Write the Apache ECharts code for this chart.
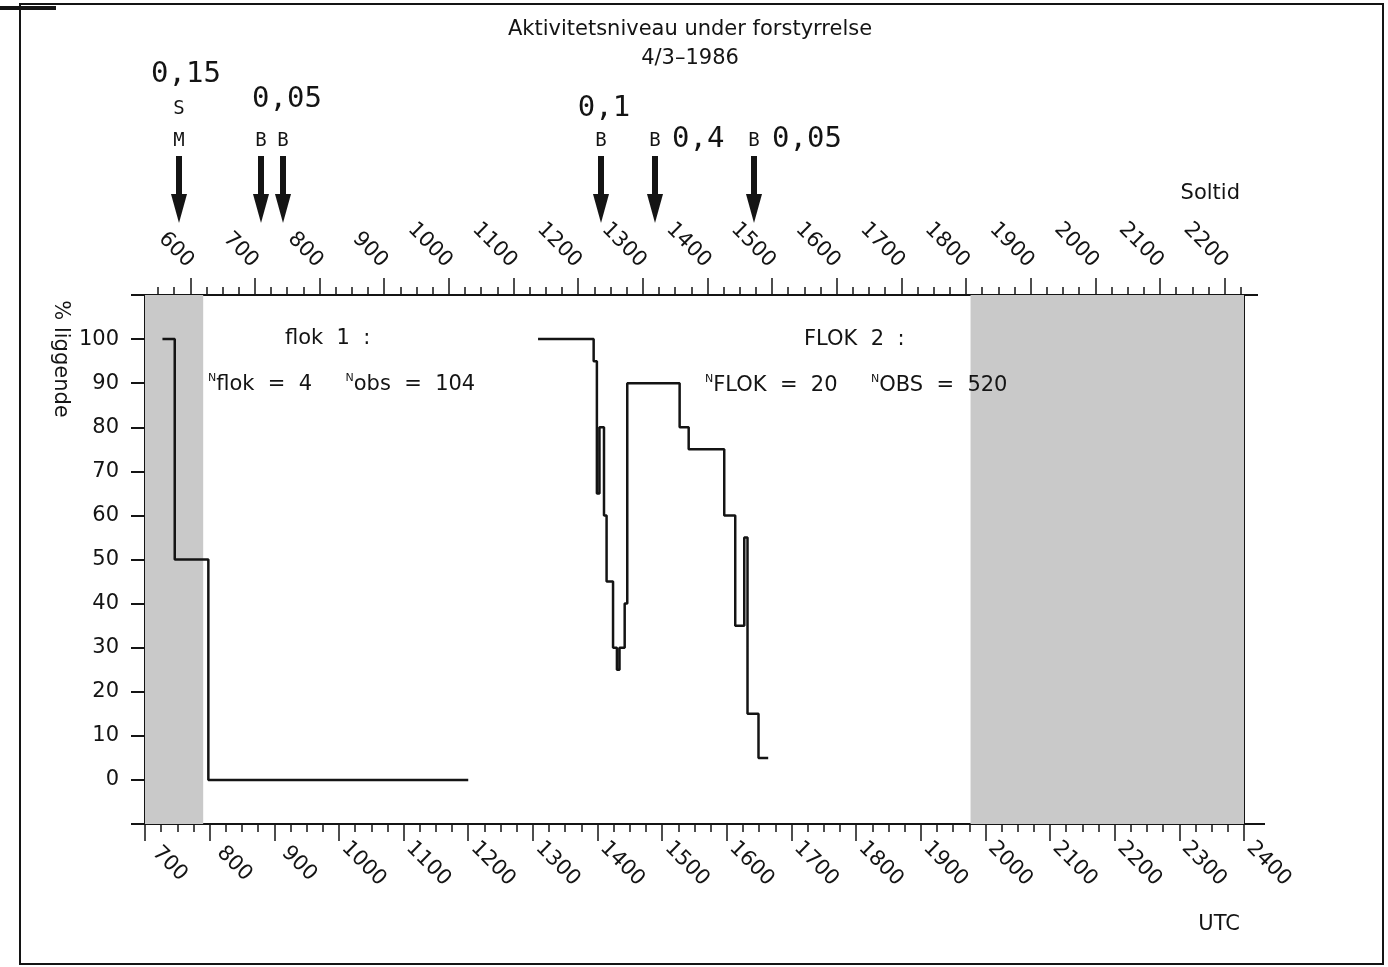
<!DOCTYPE html>
<html><head><meta charset="utf-8">
<script src="https://cdn.jsdelivr.net/npm/echarts@6/dist/echarts.min.js"></script>
<style>html,body{margin:0;padding:0;background:#fff}#c{width:1388px;height:967px}</style>
</head><body><div id="c"></div>
<script>
// ---------- data ----------
const titleLines = ['Aktivitetsniveau under forstyrrelse', '4/3\u20131986'];
const yTickValues = [0, 10, 20, 30, 40, 50, 60, 70, 80, 90, 100];
const soltidTicks = [600, 700, 800, 900, 1000, 1100, 1200, 1300, 1400, 1500, 1600, 1700, 1800, 1900, 2000, 2100, 2200];
const solarOffset = 170;            // UTC - soltid (axis units)
const utcRange = [700, 2400];
const nightBands = [[700, 790], [1977, 2400]];

const flok1Time = [727, 746, 798, 1200];
const flok1Val  = [100, 50, 0, 0];

const flok2Time = [1308, 1394, 1399, 1403, 1410, 1414, 1424, 1430, 1434, 1442, 1446, 1527, 1541, 1596, 1613, 1627, 1632, 1649, 1664];
const flok2Val  = [100, 95, 65, 80, 60, 45, 30, 25, 30, 40, 90, 80, 75, 60, 35, 55, 15, 5, 5];

const eventTimes = [752, 879, 913, 1405, 1489, 1642];
const eventCodes = [['S', 'M'], ['B'], ['B'], ['B'], ['B'], ['B']];
const eventDoses = ['0,15', '0,05', '', '0,1', '0,4', '0,05'];

const flok1Text = ['flok  1  :', '{s|N}flok  =  4     {s|N}obs  =  104'];
const flok2Text = ['FLOK  2  :', '{s|N}FLOK  =  20     {s|N}OBS  =  520'];

// ---------- chart ----------
const INK = '#141414';
const FONT = '"DejaVu Sans", sans-serif';
const MONO = '"DejaVu Sans Mono", "Liberation Mono", monospace';
const FS = 21;

const chart = echarts.init(document.getElementById('c'), null, {renderer: 'canvas'});

const lineSeries = (name, times, vals) => ({
  type: 'line', name, step: 'end', symbol: 'none', z: 3,
  data: times.map((t, i) => [t, vals[i]]),
  lineStyle: {color: INK, width: 2.5}
});

const option = {
  backgroundColor: '#fff',
  animation: false,
  grid: {left: 145, right: 144, top: 295, bottom: 143, show: true, borderColor: INK, borderWidth: 2, backgroundColor: 'transparent'},
  xAxis: [
    {
      type: 'value', position: 'bottom', min: utcRange[0], max: utcRange[1], interval: 100,
      axisLine: {onZero: false, lineStyle: {color: INK, width: 2}},
      axisTick: {length: 17, lineStyle: {color: INK, width: 1.5}},
      minorTick: {show: true, splitNumber: 4, length: 8, lineStyle: {color: INK, width: 1.5}},
      splitLine: {show: false},
      axisLabel: {rotate: -45, margin: 15, align: 'center', padding: [0, 0, 0, 70], fontSize: FS, color: INK, fontFamily: FONT, formatter: v => String(v)}
    },
    {
      type: 'value', position: 'top', min: utcRange[0] - solarOffset, max: utcRange[1] - solarOffset, splitNumber: 17,
      axisLine: {onZero: false, lineStyle: {color: INK, width: 2}},
      axisTick: {length: 17, customValues: soltidTicks, lineStyle: {color: INK, width: 1.5}},
      minorTick: {show: true, splitNumber: 4, length: 8, lineStyle: {color: INK, width: 1.5}},
      splitLine: {show: false},
      axisLabel: {rotate: 45, margin: 31, fontSize: FS, color: INK, fontFamily: FONT, customValues: soltidTicks, formatter: v => String(v)}
    }
  ],
  yAxis: {
    type: 'value', min: -10, max: 110, interval: 10,
    axisLine: {show: true, onZero: false, lineStyle: {color: INK, width: 2}},
    axisTick: {show: true, length: 14, lineStyle: {color: INK, width: 2}},
    splitLine: {show: false},
    axisLabel: {margin: 26, fontSize: FS, color: INK, fontFamily: FONT,
      formatter: v => yTickValues.indexOf(v) >= 0 ? String(v) : ''}
  },
  series: [
    Object.assign(lineSeries('flok 1', flok1Time, flok1Val), {
      markArea: {silent: true, itemStyle: {color: '#c9c9c9'},
        data: nightBands.map(b => [{xAxis: b[0]}, {xAxis: b[1]}])}
    }),
    lineSeries('FLOK 2', flok2Time, flok2Val)
  ]
};
chart.setOption(option);

// ---------- annotations ----------
const px = t => chart.convertToPixel({xAxisIndex: 0}, t);
const py = v => chart.convertToPixel({yAxisIndex: 0}, v);
const g = [];
const txt = (x, y, text, font, align, extra) => ({
  type: 'text', x, y, z: 10,
  style: Object.assign({text, font, fill: INK, align: align || 'left', verticalAlign: 'middle'}, extra || {})
});
const F = FS + 'px ' + FONT;

// page frame
g.push({type: 'rect', shape: {x: 20, y: 4, width: 1363, height: 960}, style: {fill: 'none', stroke: INK, lineWidth: 2}});
g.push({type: 'rect', shape: {x: 0, y: 6, width: 56, height: 4}, style: {fill: INK}});

// title
g.push(txt(690, 30, titleLines[0], F, 'center'));
g.push(txt(690, 59, titleLines[1], F, 'center'));

// axis names
g.push(txt(1240, 194, 'Soltid', F, 'right'));
g.push(txt(1240, 925, 'UTC', F, 'right'));
g.push({type: 'text', x: 60, y: 359, rotation: -Math.PI / 2, z: 10,
  style: {text: '% liggende', font: F, fill: INK, align: 'center', verticalAlign: 'middle'}});

// axis line extensions
const xr = px(utcRange[1]);
g.push({type: 'line', shape: {x1: xr, y1: py(110), x2: xr + 14, y2: py(110)}, style: {stroke: INK, lineWidth: 2}});
g.push({type: 'line', shape: {x1: xr, y1: py(-10), x2: xr + 21, y2: py(-10)}, style: {stroke: INK, lineWidth: 2}});

// flock texts
const rich = {s: {fontSize: 11, fontFamily: FONT, verticalAlign: 'top', lineHeight: 24, fill: INK}};
g.push(txt(285, 339, flok1Text[0], F, 'left'));
g.push(txt(208, 385, flok1Text[1], F, 'left', {rich}));
g.push(txt(804, 340, flok2Text[0], F, 'left'));
g.push(txt(705, 386, flok2Text[1], F, 'left', {rich}));

// disturbance arrows
const doseLayout = [
  {dx: 7, y: 74, align: 'center'},
  {dx: 26, y: 99, align: 'center'},
  null,
  {dx: 3, y: 108, align: 'center'},
  {dx: 17, y: 139, align: 'left'},
  {dx: 18, y: 139, align: 'left'}
];
eventTimes.forEach((t, i) => {
  const x = Math.round(px(t));
  g.push({type: 'rect', shape: {x: x - 3, y: 156, width: 6, height: 42}, style: {fill: INK}, z: 10});
  g.push({type: 'polygon', shape: {points: [[x - 8, 194], [x + 8, 194], [x, 223]]}, style: {fill: INK}, z: 10});
  const codes = eventCodes[i];
  codes.forEach((c, j) => g.push(txt(x, 141 - (codes.length - 1 - j) * 32, c, '19px ' + MONO, 'center')));
  const d = eventDoses[i], L = doseLayout[i];
  if (d && L) g.push(txt(x + L.dx, L.y, d, '29px ' + MONO, L.align));
});

chart.setOption({graphic: {elements: g}});
</script>
</body></html>
